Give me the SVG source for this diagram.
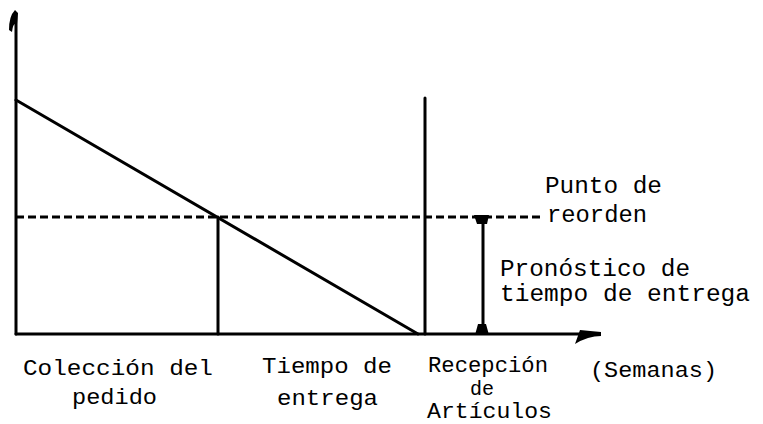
<svg xmlns="http://www.w3.org/2000/svg" width="763" height="424" viewBox="0 0 763 424">
<style>
.ln{stroke:#000;stroke-width:3;fill:none;stroke-linecap:round}
.ds{stroke:#000;stroke-width:3;fill:none;stroke-dasharray:8 4}
.t{font-family:"Liberation Mono","DejaVu Sans Mono",monospace;font-size:23px;fill:#000}
.b{font-family:"Liberation Mono","DejaVu Sans Mono",monospace;font-size:22px;fill:#000}
</style>
<rect width="763" height="424" fill="#fff"/>
<g id="connectors">
  <path class="ln" d="M16 334 V14"/>
  <path d="M9 30 Q9 16 15 10 L18 13 L17 24 Q13 22 12 32 Z" fill="#000"/>
  <path class="ln" d="M16 334 H592"/>
  <path d="M575 344 Q588 336 601 336 L601 332 Q590 331 580 330 Z" fill="#000"/>
  <path class="ln" d="M16 100 L418 334"/>
  <path class="ds" d="M16 217 H542"/>
  <path class="ln" d="M218 217 V334"/>
  <path class="ln" d="M425 98 V334"/>
  <path class="ln" d="M483 222 V328"/>
  <path d="M474 215 H489 L487 224 H477 Z" fill="#000"/>
  <path d="M475 335 H489 L486 324 H478 Z" fill="#000"/>
</g>
<g id="punto-reorden">
  <text class="t" x="545" y="193" textLength="117" lengthAdjust="spacingAndGlyphs">Punto de</text>
  <text class="t" x="547" y="222" textLength="100" lengthAdjust="spacingAndGlyphs">reorden</text>
</g>
<g id="pronostico">
  <text class="t" x="500" y="276" textLength="190" lengthAdjust="spacingAndGlyphs">Pronóstico de</text>
  <text class="t" x="500" y="301" textLength="250" lengthAdjust="spacingAndGlyphs">tiempo de entrega</text>
</g>
<g id="coleccion">
  <text class="b" x="23" y="375" textLength="190" lengthAdjust="spacingAndGlyphs">Colección del</text>
  <text class="b" x="72" y="404" textLength="85" lengthAdjust="spacingAndGlyphs">pedido</text>
</g>
<g id="tiempo">
  <text class="b" x="262" y="373" textLength="130" lengthAdjust="spacingAndGlyphs">Tiempo de</text>
  <text class="b" x="277" y="405" textLength="101" lengthAdjust="spacingAndGlyphs">entrega</text>
</g>
<g id="recepcion">
  <text class="b" x="428" y="372" textLength="120" lengthAdjust="spacingAndGlyphs">Recepción</text>
  <text class="b" x="470" y="395" style="font-size:20px">de</text>
  <text class="b" x="427" y="418" textLength="125" lengthAdjust="spacingAndGlyphs">Artículos</text>
</g>
<g id="semanas">
  <text class="b" x="590" y="377" textLength="127" lengthAdjust="spacingAndGlyphs">(Semanas)</text>
</g>
</svg>
